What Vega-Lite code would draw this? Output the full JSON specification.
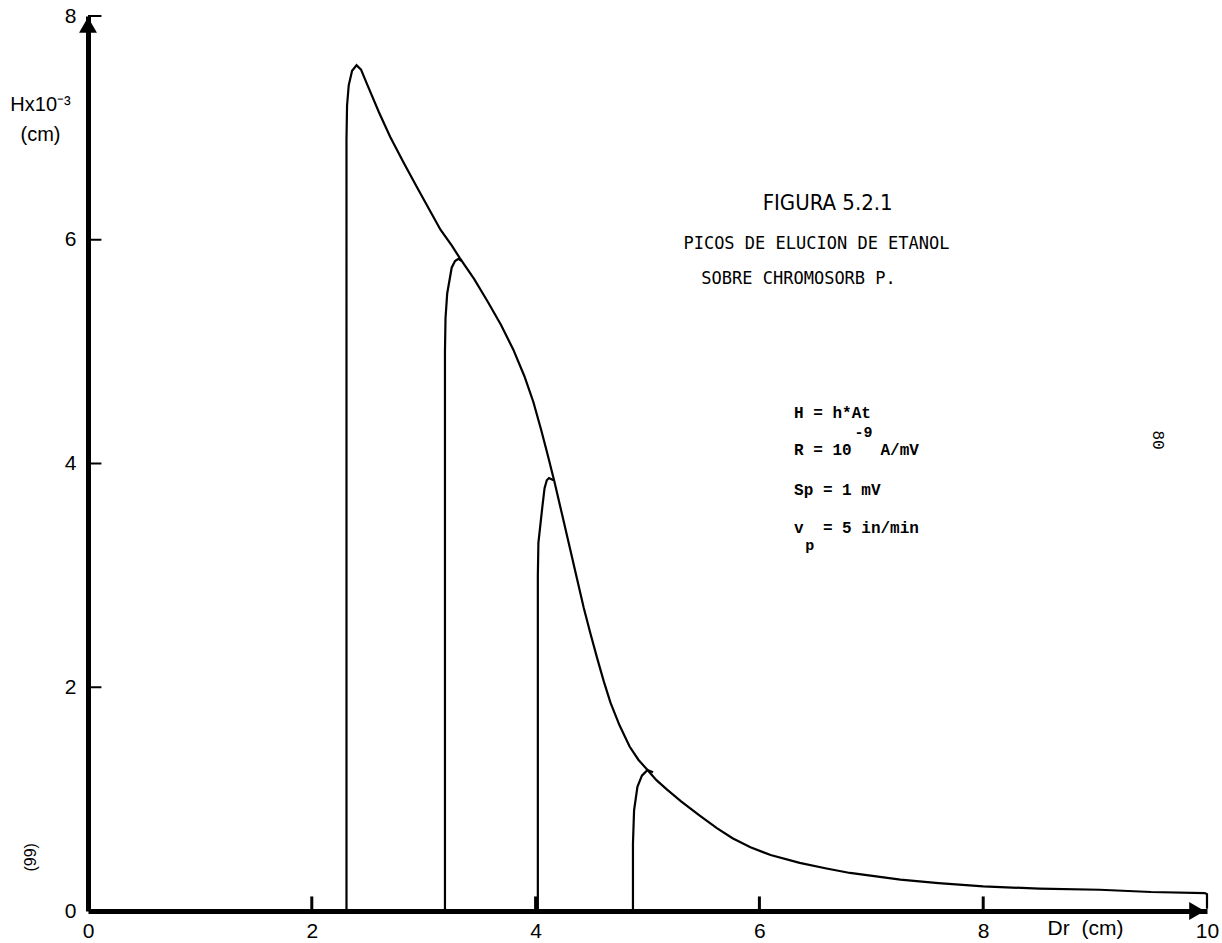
{
  "$schema": "https://vega.github.io/schema/vega-lite/v6.json",
  "width": 1119,
  "height": 895,
  "autosize": {"type": "none"},
  "padding": {"left": 88, "top": 16, "right": 15, "bottom": 32},
  "background": "white",
  "config": {"view": {"stroke": null}, "font": "Liberation Sans"},
  "datasets": {
    "curves": [
      {"s": "A", "i": 1, "x": 2.31, "y": 0},
      {"s": "A", "i": 2, "x": 2.31, "y": 6.9},
      {"s": "A", "i": 3, "x": 2.315, "y": 7.2},
      {"s": "A", "i": 4, "x": 2.33, "y": 7.38},
      {"s": "A", "i": 5, "x": 2.36, "y": 7.51},
      {"s": "A", "i": 6, "x": 2.4, "y": 7.56},
      {"s": "A", "i": 7, "x": 2.44, "y": 7.52},
      {"s": "A", "i": 8, "x": 2.49, "y": 7.4},
      {"s": "A", "i": 9, "x": 2.6, "y": 7.14},
      {"s": "A", "i": 10, "x": 2.7, "y": 6.92},
      {"s": "A", "i": 11, "x": 2.82, "y": 6.69},
      {"s": "A", "i": 12, "x": 2.94, "y": 6.47},
      {"s": "A", "i": 13, "x": 3.05, "y": 6.27},
      {"s": "A", "i": 14, "x": 3.15, "y": 6.09},
      {"s": "A", "i": 15, "x": 3.25, "y": 5.95},
      {"s": "A", "i": 16, "x": 3.32, "y": 5.84},
      {"s": "A", "i": 17, "x": 3.45, "y": 5.65},
      {"s": "A", "i": 18, "x": 3.57, "y": 5.45},
      {"s": "A", "i": 19, "x": 3.69, "y": 5.24},
      {"s": "A", "i": 20, "x": 3.8, "y": 5.02},
      {"s": "A", "i": 21, "x": 3.9, "y": 4.78},
      {"s": "A", "i": 22, "x": 3.98, "y": 4.55},
      {"s": "A", "i": 23, "x": 4.05, "y": 4.3},
      {"s": "A", "i": 24, "x": 4.11, "y": 4.07},
      {"s": "A", "i": 25, "x": 4.17, "y": 3.83},
      {"s": "A", "i": 26, "x": 4.24, "y": 3.53},
      {"s": "A", "i": 27, "x": 4.31, "y": 3.23},
      {"s": "A", "i": 28, "x": 4.37, "y": 2.97},
      {"s": "A", "i": 29, "x": 4.43, "y": 2.71},
      {"s": "A", "i": 30, "x": 4.49, "y": 2.48},
      {"s": "A", "i": 31, "x": 4.55, "y": 2.26},
      {"s": "A", "i": 32, "x": 4.61, "y": 2.05},
      {"s": "A", "i": 33, "x": 4.67, "y": 1.86},
      {"s": "A", "i": 34, "x": 4.75, "y": 1.66},
      {"s": "A", "i": 35, "x": 4.84, "y": 1.47},
      {"s": "A", "i": 36, "x": 4.92, "y": 1.35},
      {"s": "A", "i": 37, "x": 5.0, "y": 1.26},
      {"s": "A", "i": 38, "x": 5.08, "y": 1.17},
      {"s": "A", "i": 39, "x": 5.17, "y": 1.09},
      {"s": "A", "i": 40, "x": 5.3, "y": 0.98},
      {"s": "A", "i": 41, "x": 5.47, "y": 0.85},
      {"s": "A", "i": 42, "x": 5.62, "y": 0.74},
      {"s": "A", "i": 43, "x": 5.76, "y": 0.65},
      {"s": "A", "i": 44, "x": 5.92, "y": 0.57},
      {"s": "A", "i": 45, "x": 6.1, "y": 0.5},
      {"s": "A", "i": 46, "x": 6.36, "y": 0.43},
      {"s": "A", "i": 47, "x": 6.6, "y": 0.38},
      {"s": "A", "i": 48, "x": 6.81, "y": 0.34},
      {"s": "A", "i": 49, "x": 7.26, "y": 0.28},
      {"s": "A", "i": 50, "x": 7.6, "y": 0.25},
      {"s": "A", "i": 51, "x": 8.0, "y": 0.22},
      {"s": "A", "i": 52, "x": 8.5, "y": 0.2},
      {"s": "A", "i": 53, "x": 9.04, "y": 0.19},
      {"s": "A", "i": 54, "x": 9.5, "y": 0.17},
      {"s": "A", "i": 55, "x": 9.98, "y": 0.16},
      {"s": "A", "i": 56, "x": 10.0, "y": 0.15},
      {"s": "A", "i": 57, "x": 10.0, "y": 0.02},
      {"s": "B", "i": 1, "x": 3.19, "y": 0},
      {"s": "B", "i": 2, "x": 3.19, "y": 5.0},
      {"s": "B", "i": 3, "x": 3.195, "y": 5.3},
      {"s": "B", "i": 4, "x": 3.21, "y": 5.52},
      {"s": "B", "i": 5, "x": 3.25, "y": 5.75},
      {"s": "B", "i": 6, "x": 3.28, "y": 5.81},
      {"s": "B", "i": 7, "x": 3.31, "y": 5.83},
      {"s": "B", "i": 8, "x": 3.34, "y": 5.81},
      {"s": "C", "i": 1, "x": 4.02, "y": 0},
      {"s": "C", "i": 2, "x": 4.02, "y": 3.0},
      {"s": "C", "i": 3, "x": 4.025, "y": 3.29},
      {"s": "C", "i": 4, "x": 4.06, "y": 3.61},
      {"s": "C", "i": 5, "x": 4.08, "y": 3.78},
      {"s": "C", "i": 6, "x": 4.1, "y": 3.85},
      {"s": "C", "i": 7, "x": 4.12, "y": 3.87},
      {"s": "C", "i": 8, "x": 4.16, "y": 3.85},
      {"s": "D", "i": 1, "x": 4.87, "y": 0},
      {"s": "D", "i": 2, "x": 4.87, "y": 0.6},
      {"s": "D", "i": 3, "x": 4.88, "y": 0.9},
      {"s": "D", "i": 4, "x": 4.91, "y": 1.11},
      {"s": "D", "i": 5, "x": 4.95, "y": 1.21},
      {"s": "D", "i": 6, "x": 5.0, "y": 1.26},
      {"s": "D", "i": 7, "x": 5.05, "y": 1.24}
    ],
    "ticks": [{"v": 2}, {"v": 4}, {"v": 6}, {"v": 8}],
    "titles": [
      {"label": "FIGURA 5.2.1", "x": 6.61, "y": 6.33}
    ],
    "subtitles": [
      {"label": "PICOS DE ELUCION DE ETANOL", "x": 6.51, "y": 5.96},
      {"label": "SOBRE CHROMOSORB P.", "x": 6.35, "y": 5.65}
    ],
    "formula": [
      {"label": "H = h*At", "x": 6.31, "y": 4.45},
      {"label": "R = 10\u00a0\u00a0\u00a0A/mV", "x": 6.31, "y": 4.12},
      {"label": "Sp = 1 mV", "x": 6.31, "y": 3.76},
      {"label": "v\u00a0\u00a0= 5 in/min", "x": 6.31, "y": 3.42}
    ],
    "scripts": [
      {"label": "-9", "x": 6.85, "y": 4.28},
      {"label": "p", "x": 6.41, "y": 3.27}
    ]
  },
  "layer": [
    {
      "data": {"name": "curves"},
      "mark": {"type": "line", "color": "black", "strokeWidth": 2.2, "interpolate": "linear"},
      "encoding": {
        "x": {
          "field": "x", "type": "quantitative",
          "scale": {"domain": [0, 10], "nice": false, "zero": false},
          "axis": {
            "values": [0, 2, 4, 6, 8, 10], "format": "d", "ticks": false, "grid": false,
            "domainColor": "black", "domainWidth": 5,
            "labelFontSize": 21, "labelColor": "black", "labelPadding": 9,
            "labelFlush": false, "labelOverlap": false, "labelBound": false, "labelFont": "Liberation Sans",
            "title": "Dr\u00a0\u00a0(cm)", "titleFontSize": 21, "titleFontWeight": "normal",
            "titleColor": "black", "titleX": 997, "titleY": 17, "titleAlign": "center",
            "titleBaseline": "middle", "titleFont": "Liberation Sans"
          }
        },
        "y": {
          "field": "y", "type": "quantitative",
          "scale": {"domain": [0, 8], "nice": false, "zero": false},
          "axis": {
            "values": [0, 2, 4, 6, 8], "format": "d", "ticks": false, "grid": false,
            "domainColor": "black", "domainWidth": 5,
            "labelFontSize": 21, "labelColor": "black", "labelPadding": 12,
            "labelFlush": false, "labelOverlap": false, "labelBound": false, "labelFont": "Liberation Sans",
            "title": ["Hx10\u207b\u00b3", "(cm)"], "titleFontSize": 20, "titleFontWeight": "normal",
            "titleColor": "black", "titleAngle": 0, "titleX": -48, "titleY": 78,
            "titleAlign": "center", "titleBaseline": "top", "titleLineHeight": 30,
            "titleFont": "Liberation Sans"
          }
        },
        "detail": {"field": "s", "type": "nominal"},
        "order": {"field": "i", "type": "quantitative"}
      }
    },
    {
      "data": {"name": "ticks"},
      "mark": {"type": "rule", "color": "black", "strokeWidth": 3},
      "encoding": {
        "x": {"field": "v", "type": "quantitative"},
        "y": {"datum": 0, "type": "quantitative"},
        "y2": {"datum": 0.13}
      }
    },
    {
      "data": {"name": "ticks"},
      "mark": {"type": "rule", "color": "black", "strokeWidth": 2},
      "encoding": {
        "y": {"field": "v", "type": "quantitative"},
        "x": {"datum": 0, "type": "quantitative"},
        "x2": {"datum": 0.12}
      }
    },
    {
      "data": {"values": [{"x": 0, "y": 7.92}]},
      "mark": {"type": "point", "shape": "triangle-up", "filled": true, "color": "black", "size": 320, "opacity": 1},
      "encoding": {
        "x": {"field": "x", "type": "quantitative"},
        "y": {"field": "y", "type": "quantitative"}
      }
    },
    {
      "data": {"values": [{"x": 9.91, "y": 0}]},
      "mark": {"type": "point", "shape": "triangle-right", "filled": true, "color": "black", "size": 320, "opacity": 1},
      "encoding": {
        "x": {"field": "x", "type": "quantitative"},
        "y": {"field": "y", "type": "quantitative"}
      }
    },
    {
      "data": {"name": "titles"},
      "mark": {"type": "text", "font": "Liberation Sans Narrow, DejaVu Sans Condensed, Liberation Sans", "fontSize": 22, "color": "black", "align": "center", "baseline": "middle"},
      "encoding": {
        "x": {"field": "x", "type": "quantitative"},
        "y": {"field": "y", "type": "quantitative"},
        "text": {"field": "label"}
      }
    },
    {
      "data": {"name": "subtitles"},
      "mark": {"type": "text", "font": "DejaVu Sans Mono", "fontSize": 17, "color": "black", "align": "center", "baseline": "middle"},
      "encoding": {
        "x": {"field": "x", "type": "quantitative"},
        "y": {"field": "y", "type": "quantitative"},
        "text": {"field": "label"}
      }
    },
    {
      "data": {"name": "formula"},
      "mark": {"type": "text", "font": "Liberation Mono", "fontWeight": "bold", "fontSize": 16, "color": "black", "align": "left", "baseline": "middle"},
      "encoding": {
        "x": {"field": "x", "type": "quantitative"},
        "y": {"field": "y", "type": "quantitative"},
        "text": {"field": "label"}
      }
    },
    {
      "data": {"name": "scripts"},
      "mark": {"type": "text", "font": "Liberation Mono", "fontWeight": "bold", "fontSize": 15, "color": "black", "align": "left", "baseline": "middle"},
      "encoding": {
        "x": {"field": "x", "type": "quantitative"},
        "y": {"field": "y", "type": "quantitative"},
        "text": {"field": "label"}
      }
    },
    {
      "data": {"values": [{"label": "80", "x": 9.56, "y": 4.21}]},
      "mark": {"type": "text", "font": "Liberation Mono", "fontSize": 16, "angle": 90, "color": "black", "align": "center", "baseline": "middle"},
      "encoding": {
        "x": {"field": "x", "type": "quantitative"},
        "y": {"field": "y", "type": "quantitative"},
        "text": {"field": "label"}
      }
    },
    {
      "data": {"values": [{"label": "(99)", "x": -0.51, "y": 0.48}]},
      "mark": {"type": "text", "font": "Liberation Sans", "fontSize": 16, "angle": 270, "color": "black", "align": "center", "baseline": "middle"},
      "encoding": {
        "x": {"field": "x", "type": "quantitative"},
        "y": {"field": "y", "type": "quantitative"},
        "text": {"field": "label"}
      }
    }
  ]
}
